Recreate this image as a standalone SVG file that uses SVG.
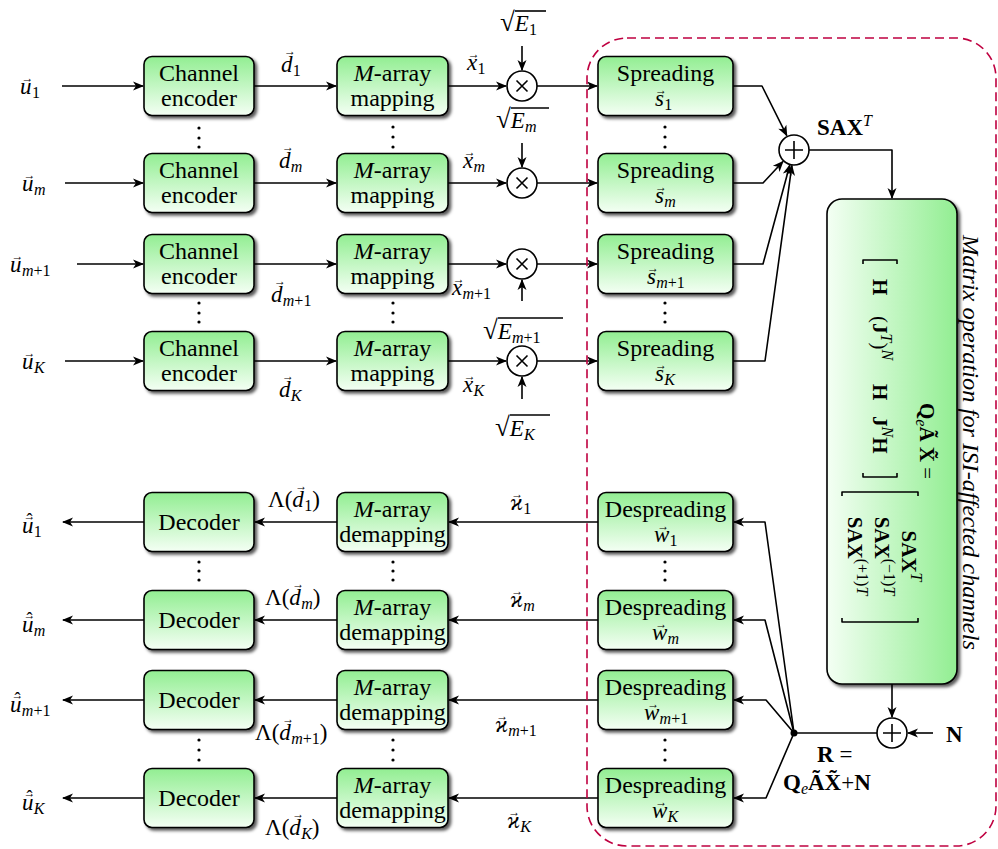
<svg xmlns="http://www.w3.org/2000/svg" width="998" height="849" viewBox="0 0 998 849">
  <defs>
    <linearGradient id="gBox" x1="0" y1="0" x2="0" y2="1">
      <stop offset="0" stop-color="#92ee92"/>
      <stop offset="1" stop-color="#f4fff4"/>
    </linearGradient>
    <linearGradient id="gBig" x1="0" y1="0" x2="1" y2="0">
      <stop offset="0" stop-color="#f4fff4"/>
      <stop offset="1" stop-color="#92ee92"/>
    </linearGradient>
    <filter id="sh" x="-10%" y="-10%" width="130%" height="130%">
      <feDropShadow dx="2.5" dy="2.5" stdDeviation="1.4" flood-color="#000" flood-opacity="0.65"/>
    </filter>
    <marker id="arr" markerUnits="userSpaceOnUse" markerWidth="14" markerHeight="12" viewBox="-11 -6 14 12" refX="0" refY="0" orient="auto">
      <path d="M-10,-4.5 L1,0 L-10,4.5 L-7,0 Z" fill="#000"/>
    </marker>
    <style>
      .bx { fill: url(#gBox); stroke: #000; stroke-width: 1.6; filter: url(#sh); }
      .big { fill: url(#gBig); stroke: #000; stroke-width: 1.6; filter: url(#sh); }
      .t { font-family: "Liberation Serif", "DejaVu Serif", serif; font-size: 24px; fill: #000; }
      .m { font-family: "Liberation Serif", "DejaVu Serif", serif; font-style: italic; font-size: 23px; fill: #000; }
      .f { font-family: "Liberation Serif", "DejaVu Serif", serif; font-style: italic; font-size: 21px; fill: #000; }
      .v { font-size: 12px; font-style: normal; }
      .h { font-size: 18px; font-style: normal; }
      .s { font-size: 16px; }
      .up { font-style: normal; }
      .rt { font-style: normal; font-size: 27px; }
      .b { font-weight: bold; font-style: normal; }
      .w { fill: none; stroke: #000; stroke-width: 1.6; stroke-linejoin: round; }
      .a { marker-end: url(#arr); }
      .op { fill: #fff; stroke: #000; stroke-width: 1.6; }
      .dot { fill: #000; }
    </style>
  </defs>

  <rect width="998" height="849" fill="#fff"/>

  <!-- connectors -->
  <g id="connectors">
    <!-- transmitter rows -->
    <path class="w a" d="M62,86 H143"/>
    <path class="w a" d="M65,183 H143"/>
    <path class="w a" d="M77,264 H143"/>
    <path class="w a" d="M65,361 H143"/>
    <path class="w a" d="M254,86 H336"/>
    <path class="w a" d="M254,183 H336"/>
    <path class="w a" d="M254,264 H336"/>
    <path class="w a" d="M254,361 H336"/>
    <path class="w a" d="M448,86 H506"/>
    <path class="w a" d="M448,183 H506"/>
    <path class="w a" d="M448,264 H506"/>
    <path class="w a" d="M448,361 H506"/>
    <path class="w a" d="M537,86 H597"/>
    <path class="w a" d="M537,183 H597"/>
    <path class="w a" d="M537,264 H597"/>
    <path class="w a" d="M537,361 H597"/>
    <path class="w a" d="M522,46 V70"/>
    <path class="w a" d="M522,143 V167"/>
    <path class="w a" d="M522,301 V280"/>
    <path class="w a" d="M522,399 V377"/>
    <!-- spreading outputs into the adder -->
    <path class="w a" d="M733,86 H762 L786.8,135.6"/>
    <path class="w a" d="M733,183 H763 L783,161.5"/>
    <path class="w a" d="M733,264 H763 L789.8,165"/>
    <path class="w a" d="M733,361 H765 L791.9,165.4"/>
    <path class="w a" d="M809,150 H892 V198"/>
    <!-- channel output, noise and received signal -->
    <path class="w a" d="M892,684 V717"/>
    <path class="w a" d="M933,733 H908"/>
    <path class="w" d="M794,733 H877"/>
    <path class="w a" d="M794,733 L765,522 H734"/>
    <path class="w a" d="M794,733 L765,620 H734"/>
    <path class="w a" d="M794,733 L766,700 H734"/>
    <path class="w a" d="M794,733 L766,798 H734"/>
    <!-- receiver rows -->
    <path class="w a" d="M598,522 H449"/>
    <path class="w a" d="M598,620 H449"/>
    <path class="w a" d="M598,700 H449"/>
    <path class="w a" d="M598,798 H449"/>
    <path class="w a" d="M337,522 H255"/>
    <path class="w a" d="M337,620 H255"/>
    <path class="w a" d="M337,700 H255"/>
    <path class="w a" d="M337,798 H255"/>
    <path class="w a" d="M144,522 H63"/>
    <path class="w a" d="M144,620 H63"/>
    <path class="w a" d="M144,700 H63"/>
    <path class="w a" d="M144,798 H63"/>
    <circle class="dot" cx="794" cy="733" r="3.5"/>
  </g>

  <!-- region boundary of the ISI matrix operation -->
  <rect x="587" y="38" width="409" height="808" rx="40" fill="none" stroke="#bf0040" stroke-width="1.6" stroke-dasharray="9,5"/>

  <!-- channel encoders -->
  <g id="enc1"><rect class="bx" x="144" y="56.5" width="110" height="59" rx="8"/><text class="t" x="199" y="81" text-anchor="middle">Channel</text><text class="t" x="199" y="106" text-anchor="middle">encoder</text></g>
  <g id="encm"><rect class="bx" x="144" y="153.5" width="110" height="59" rx="8"/><text class="t" x="199" y="178" text-anchor="middle">Channel</text><text class="t" x="199" y="203" text-anchor="middle">encoder</text></g>
  <g id="encm1"><rect class="bx" x="144" y="234.5" width="110" height="59" rx="8"/><text class="t" x="199" y="259" text-anchor="middle">Channel</text><text class="t" x="199" y="284" text-anchor="middle">encoder</text></g>
  <g id="encK"><rect class="bx" x="144" y="331.5" width="110" height="59" rx="8"/><text class="t" x="199" y="356" text-anchor="middle">Channel</text><text class="t" x="199" y="381" text-anchor="middle">encoder</text></g>

  <!-- M-array mappers -->
  <g id="map1"><rect class="bx" x="337" y="56.5" width="111" height="59" rx="8"/><text class="t" x="392.5" y="81" text-anchor="middle"><tspan font-style="italic">M</tspan>-array</text><text class="t" x="392.5" y="106" text-anchor="middle">mapping</text></g>
  <g id="mapm"><rect class="bx" x="337" y="153.5" width="111" height="59" rx="8"/><text class="t" x="392.5" y="178" text-anchor="middle"><tspan font-style="italic">M</tspan>-array</text><text class="t" x="392.5" y="203" text-anchor="middle">mapping</text></g>
  <g id="mapm1"><rect class="bx" x="337" y="234.5" width="111" height="59" rx="8"/><text class="t" x="392.5" y="259" text-anchor="middle"><tspan font-style="italic">M</tspan>-array</text><text class="t" x="392.5" y="284" text-anchor="middle">mapping</text></g>
  <g id="mapK"><rect class="bx" x="337" y="331.5" width="111" height="59" rx="8"/><text class="t" x="392.5" y="356" text-anchor="middle"><tspan font-style="italic">M</tspan>-array</text><text class="t" x="392.5" y="381" text-anchor="middle">mapping</text></g>

  <!-- energy multipliers -->
  <g id="mul1"><circle class="op" cx="522" cy="86" r="15"/><path class="w" d="M516.5,80.5 L527.5,91.5 M527.5,80.5 L516.5,91.5"/></g>
  <g id="mulm"><circle class="op" cx="522" cy="183" r="15"/><path class="w" d="M516.5,177.5 L527.5,188.5 M527.5,177.5 L516.5,188.5"/></g>
  <g id="mulm1"><circle class="op" cx="522" cy="264" r="15"/><path class="w" d="M516.5,258.5 L527.5,269.5 M527.5,258.5 L516.5,269.5"/></g>
  <g id="mulK"><circle class="op" cx="522" cy="361" r="15"/><path class="w" d="M516.5,355.5 L527.5,366.5 M527.5,355.5 L516.5,366.5"/></g>

  <!-- spreaders -->
  <g id="spr1"><rect class="bx" x="598" y="56.5" width="135" height="59" rx="8"/><text class="t" x="665.5" y="81" text-anchor="middle">Spreading</text><text class="m" x="655" y="106">s<tspan class="v" dx="-8.85" dy="-12">→</tspan><tspan class="s up" dx="-2.95" dy="16">1</tspan></text></g>
  <g id="sprm"><rect class="bx" x="598" y="153.5" width="135" height="59" rx="8"/><text class="t" x="665.5" y="178" text-anchor="middle">Spreading</text><text class="m" x="655" y="203">s<tspan class="v" dx="-8.85" dy="-12">→</tspan><tspan class="s" dx="-2.95" dy="16">m</tspan></text></g>
  <g id="sprm1"><rect class="bx" x="598" y="234.5" width="135" height="59" rx="8"/><text class="t" x="665.5" y="259" text-anchor="middle">Spreading</text><text class="m" x="647" y="284">s<tspan class="v" dx="-8.85" dy="-12">→</tspan><tspan class="s" dx="-2.95" dy="16">m</tspan><tspan class="s up">+1</tspan></text></g>
  <g id="sprK"><rect class="bx" x="598" y="331.5" width="135" height="59" rx="8"/><text class="t" x="665.5" y="356" text-anchor="middle">Spreading</text><text class="m" x="655" y="381">s<tspan class="v" dx="-8.85" dy="-12">→</tspan><tspan class="s" dx="-2.95" dy="16">K</tspan></text></g>

  <!-- adder of the spread streams -->
  <g id="sum"><circle class="op" cx="794" cy="150" r="15"/><path class="w" d="M785,150 H803 M794,141 V159"/></g>

  <!-- ISI matrix operation block -->
  <g id="isi">
    <rect class="big" x="827" y="199" width="130" height="485" rx="15"/>
    <g transform="translate(900,440) rotate(90)">
      <text class="f" x="-37" y="-20"><tspan class="b">Q</tspan><tspan class="s" dy="4">e</tspan><tspan class="b" dy="-4">Ã X&#x0303;</tspan><tspan class="up"> =</tspan></text>
      <path class="w" d="M-176,3 H-180 V37 H-176 M33,3 H37 V37 H33"/>
      <text class="f" x="-161" y="27"><tspan class="b">H</tspan></text>
      <text class="f" x="-124" y="27"><tspan class="up">(</tspan><tspan class="b">J</tspan><tspan class="s" dy="-8">T</tspan><tspan class="up" dy="8">)</tspan><tspan class="s" dy="-9">N</tspan></text>
      <text class="f" x="-56" y="27"><tspan class="b">H</tspan></text>
      <text class="f" x="-24" y="27"><tspan class="b">J</tspan><tspan class="s" dy="-9">N</tspan><tspan class="b" dy="9">H</tspan></text>
      <path class="w" d="M56,-18 H52 V58 H56 M178,-18 H182 V58 H178"/>
      <text class="f" x="116" y="-2" text-anchor="middle"><tspan class="b">SAX</tspan><tspan class="s" dy="-9">T</tspan></text>
      <text class="f" x="116" y="25" text-anchor="middle"><tspan class="b">SAX</tspan><tspan class="s up" dy="-9">(−1)</tspan><tspan class="s">T</tspan></text>
      <text class="f" x="116" y="52" text-anchor="middle"><tspan class="b">SAX</tspan><tspan class="s up" dy="-9">(+1)</tspan><tspan class="s">T</tspan></text>
    </g>
  </g>
  <text class="m" transform="translate(963,235) rotate(90)" font-size="22" textLength="415" lengthAdjust="spacingAndGlyphs">Matrix operation for ISI-affected channels</text>

  <!-- noise adder -->
  <g id="nsum"><circle class="op" cx="892" cy="733" r="15"/><path class="w" d="M883,733 H901 M892,724 V742"/></g>

  <!-- despreaders -->
  <g id="dsp1"><rect class="bx" x="598" y="492.5" width="135" height="59" rx="8"/><text class="t" x="665.5" y="517" text-anchor="middle">Despreading</text><text class="m" x="654" y="542">w<tspan class="v" dx="-12" dy="-12">→</tspan><tspan class="s up" dx="0.25" dy="16">1</tspan></text></g>
  <g id="dspm"><rect class="bx" x="598" y="590.5" width="135" height="59" rx="8"/><text class="t" x="665.5" y="615" text-anchor="middle">Despreading</text><text class="m" x="652" y="640">w<tspan class="v" dx="-12" dy="-12">→</tspan><tspan class="s" dx="0.25" dy="16">m</tspan></text></g>
  <g id="dspm1"><rect class="bx" x="598" y="670.5" width="135" height="59" rx="8"/><text class="t" x="665.5" y="695" text-anchor="middle">Despreading</text><text class="m" x="644" y="720">w<tspan class="v" dx="-12" dy="-12">→</tspan><tspan class="s" dx="0.25" dy="16">m</tspan><tspan class="s up">+1</tspan></text></g>
  <g id="dspK"><rect class="bx" x="598" y="768.5" width="135" height="59" rx="8"/><text class="t" x="665.5" y="793" text-anchor="middle">Despreading</text><text class="m" x="652" y="818">w<tspan class="v" dx="-12" dy="-12">→</tspan><tspan class="s" dx="0.25" dy="16">K</tspan></text></g>

  <!-- M-array demappers -->
  <g id="dmap1"><rect class="bx" x="337" y="492.5" width="111" height="59" rx="8"/><text class="t" x="392.5" y="517" text-anchor="middle"><tspan font-style="italic">M</tspan>-array</text><text class="t" x="392.5" y="542" text-anchor="middle">demapping</text></g>
  <g id="dmapm"><rect class="bx" x="337" y="590.5" width="111" height="59" rx="8"/><text class="t" x="392.5" y="615" text-anchor="middle"><tspan font-style="italic">M</tspan>-array</text><text class="t" x="392.5" y="640" text-anchor="middle">demapping</text></g>
  <g id="dmapm1"><rect class="bx" x="337" y="670.5" width="111" height="59" rx="8"/><text class="t" x="392.5" y="695" text-anchor="middle"><tspan font-style="italic">M</tspan>-array</text><text class="t" x="392.5" y="720" text-anchor="middle">demapping</text></g>
  <g id="dmapK"><rect class="bx" x="337" y="768.5" width="111" height="59" rx="8"/><text class="t" x="392.5" y="793" text-anchor="middle"><tspan font-style="italic">M</tspan>-array</text><text class="t" x="392.5" y="818" text-anchor="middle">demapping</text></g>

  <!-- decoders -->
  <g id="dec1"><rect class="bx" x="144" y="492.5" width="110" height="59" rx="8"/><text class="t" x="199" y="530" text-anchor="middle">Decoder</text></g>
  <g id="decm"><rect class="bx" x="144" y="590.5" width="110" height="59" rx="8"/><text class="t" x="199" y="628" text-anchor="middle">Decoder</text></g>
  <g id="decm1"><rect class="bx" x="144" y="670.5" width="110" height="59" rx="8"/><text class="t" x="199" y="708" text-anchor="middle">Decoder</text></g>
  <g id="decK"><rect class="bx" x="144" y="768.5" width="110" height="59" rx="8"/><text class="t" x="199" y="806" text-anchor="middle">Decoder</text></g>

  <!-- vertical ellipses between the row pairs -->
  <g id="vdots" class="dot">
    <circle cx="199" cy="128" r="1.6"/><circle cx="199" cy="138" r="1.6"/><circle cx="199" cy="147" r="1.6"/>
    <circle cx="393" cy="127" r="1.6"/><circle cx="393" cy="137" r="1.6"/><circle cx="393" cy="147" r="1.6"/>
    <circle cx="665" cy="127" r="1.6"/><circle cx="665" cy="137" r="1.6"/><circle cx="665" cy="147" r="1.6"/>
    <circle cx="199" cy="303" r="1.6"/><circle cx="199" cy="313" r="1.6"/><circle cx="199" cy="322" r="1.6"/>
    <circle cx="393" cy="303" r="1.6"/><circle cx="393" cy="313" r="1.6"/><circle cx="393" cy="322" r="1.6"/>
    <circle cx="665" cy="303" r="1.6"/><circle cx="665" cy="313" r="1.6"/><circle cx="665" cy="322" r="1.6"/>
    <circle cx="199" cy="562" r="1.6"/><circle cx="199" cy="571" r="1.6"/><circle cx="199" cy="580" r="1.6"/>
    <circle cx="393" cy="562" r="1.6"/><circle cx="393" cy="571" r="1.6"/><circle cx="393" cy="580" r="1.6"/>
    <circle cx="665" cy="562" r="1.6"/><circle cx="665" cy="571" r="1.6"/><circle cx="665" cy="580" r="1.6"/>
    <circle cx="199" cy="740" r="1.6"/><circle cx="199" cy="750" r="1.6"/><circle cx="199" cy="760" r="1.6"/>
    <circle cx="393" cy="740" r="1.6"/><circle cx="393" cy="750" r="1.6"/><circle cx="393" cy="760" r="1.6"/>
    <circle cx="665" cy="740" r="1.6"/><circle cx="665" cy="750" r="1.6"/><circle cx="665" cy="760" r="1.6"/>
  </g>

  <!-- signal labels, transmitter side -->
  <g id="labels-tx">
    <text class="m" x="20" y="94">u<tspan class="v" dx="-10" dy="-12">→</tspan><tspan class="s up" dx="-1.5" dy="16">1</tspan></text>
    <text class="m" x="22" y="191">u<tspan class="v" dx="-10" dy="-12">→</tspan><tspan class="s" dx="-1.5" dy="16">m</tspan></text>
    <text class="m" x="10" y="272">u<tspan class="v" dx="-10" dy="-12">→</tspan><tspan class="s" dx="-1.5" dy="16">m</tspan><tspan class="s up">+1</tspan></text>
    <text class="m" x="22" y="369">u<tspan class="v" dx="-10" dy="-12">→</tspan><tspan class="s" dx="-1.5" dy="16">K</tspan></text>
    <text class="m" x="281" y="72">d<tspan class="v" dx="-8.6" dy="-17">→</tspan><tspan class="s up" dx="-3.1" dy="21">1</tspan></text>
    <text class="m" x="279" y="168">d<tspan class="v" dx="-8.6" dy="-17">→</tspan><tspan class="s" dx="-3.1" dy="21">m</tspan></text>
    <text class="m" x="271" y="302">d<tspan class="v" dx="-8.6" dy="-17">→</tspan><tspan class="s" dx="-3.1" dy="21">m</tspan><tspan class="s up">+1</tspan></text>
    <text class="m" x="279" y="397">d<tspan class="v" dx="-8.6" dy="-17">→</tspan><tspan class="s" dx="-3.1" dy="21">K</tspan></text>
    <text class="m" x="467" y="70">x<tspan class="v" dx="-9.5" dy="-12">→</tspan><tspan class="s up" dx="-2.3" dy="16">1</tspan></text>
    <text class="m" x="463" y="168">x<tspan class="v" dx="-9.5" dy="-12">→</tspan><tspan class="s" dx="-2.3" dy="16">m</tspan></text>
    <text class="m" x="452" y="295">x<tspan class="v" dx="-9.5" dy="-12">→</tspan><tspan class="s" dx="-2.3" dy="16">m</tspan><tspan class="s up">+1</tspan></text>
    <text class="m" x="463" y="392">x<tspan class="v" dx="-9.5" dy="-12">→</tspan><tspan class="s" dx="-2.3" dy="16">K</tspan></text>
    <text class="m" x="500" y="31"><tspan class="rt">√</tspan>E<tspan class="s up" dy="4">1</tspan></text>
    <path class="w" d="M515,11 H546"/>
    <text class="m" x="496" y="128"><tspan class="rt">√</tspan>E<tspan class="s" dy="4">m</tspan></text>
    <path class="w" d="M511,108 H549"/>
    <text class="m" x="483" y="339"><tspan class="rt">√</tspan>E<tspan class="s" dy="4">m</tspan><tspan class="s up">+1</tspan></text>
    <path class="w" d="M498,318 H563"/>
    <text class="m" x="495" y="436"><tspan class="rt">√</tspan>E<tspan class="s" dy="4">K</tspan></text>
    <path class="w" d="M510,415 H550"/>
    <text class="m" x="817" y="135"><tspan class="b">SAX</tspan><tspan class="s" dy="-9">T</tspan></text>
  </g>

  <!-- signal labels, receiver side -->
  <g id="labels-rx">
    <text class="m" x="22" y="533">u<tspan class="v" dx="-10" dy="-13">→</tspan><tspan class="h" dx="-8.9" dy="6">ˆ</tspan><tspan class="s up" dx="1.25" dy="11">1</tspan></text>
    <text class="m" x="22" y="632">u<tspan class="v" dx="-10" dy="-13">→</tspan><tspan class="h" dx="-8.9" dy="6">ˆ</tspan><tspan class="s" dx="1.25" dy="11">m</tspan></text>
    <text class="m" x="10" y="712">u<tspan class="v" dx="-10" dy="-13">→</tspan><tspan class="h" dx="-8.9" dy="6">ˆ</tspan><tspan class="s" dx="1.25" dy="11">m</tspan><tspan class="s up">+1</tspan></text>
    <text class="m" x="22" y="810">u<tspan class="v" dx="-10" dy="-13">→</tspan><tspan class="h" dx="-8.9" dy="6">ˆ</tspan><tspan class="s" dx="1.25" dy="11">K</tspan></text>
    <text class="m" x="268" y="507"><tspan class="up">Λ(</tspan>d<tspan class="v" dx="-8.6" dy="-17">→</tspan><tspan class="s up" dx="-3.1" dy="21">1</tspan><tspan class="up" dy="-4">)</tspan></text>
    <text class="m" x="265" y="605"><tspan class="up">Λ(</tspan>d<tspan class="v" dx="-8.6" dy="-17">→</tspan><tspan class="s" dx="-3.1" dy="21">m</tspan><tspan class="up" dy="-4">)</tspan></text>
    <text class="m" x="255" y="740"><tspan class="up">Λ(</tspan>d<tspan class="v" dx="-8.6" dy="-17">→</tspan><tspan class="s" dx="-3.1" dy="21">m</tspan><tspan class="s up">+1</tspan><tspan class="up" dy="-4">)</tspan></text>
    <text class="m" x="265" y="835"><tspan class="up">Λ(</tspan>d<tspan class="v" dx="-8.6" dy="-17">→</tspan><tspan class="s" dx="-3.1" dy="21">K</tspan><tspan class="up" dy="-4">)</tspan></text>
    <text class="m" x="510" y="510">ϰ<tspan class="v" dx="-11.8" dy="-12">→</tspan><tspan class="s up" dy="16">1</tspan></text>
    <text class="m" x="510" y="607">ϰ<tspan class="v" dx="-11.8" dy="-12">→</tspan><tspan class="s" dy="16">m</tspan></text>
    <text class="m" x="495" y="732">ϰ<tspan class="v" dx="-11.8" dy="-12">→</tspan><tspan class="s" dy="16">m</tspan><tspan class="s up">+1</tspan></text>
    <text class="m" x="507" y="828">ϰ<tspan class="v" dx="-11.8" dy="-12">→</tspan><tspan class="s" dy="16">K</tspan></text>
    <text class="m" x="946" y="742"><tspan class="b">N</tspan></text>
    <text class="m" x="817" y="762"><tspan class="b">R</tspan><tspan class="up"> =</tspan></text>
    <text class="m" x="783" y="790"><tspan class="b">Q</tspan><tspan class="s" dy="4">e</tspan><tspan class="b" dy="-4">ÃX&#x0303;</tspan><tspan class="up">+</tspan><tspan class="b">N</tspan></text>
  </g>
</svg>
